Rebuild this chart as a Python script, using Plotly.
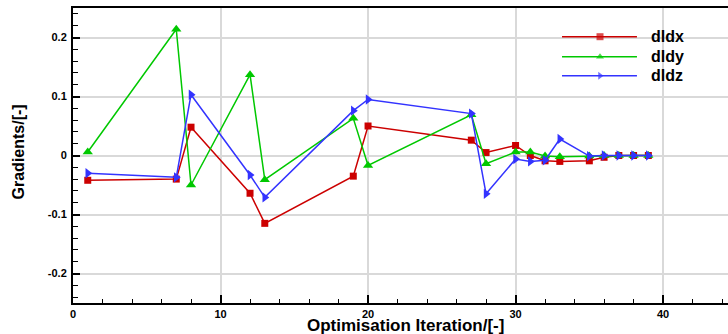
import plotly.graph_objects as go

# Optimisation iterations at which the gradients were evaluated
iterations = [1, 7, 8, 12, 13, 19, 20, 27, 28, 30, 31, 32, 33, 35, 36, 37, 38, 39]

# Gradient components per iteration
dldx = [-0.042, -0.040, 0.048, -0.064, -0.115, -0.035, 0.050, 0.026, 0.005, 0.017,
        0.000, -0.009, -0.010, -0.009, -0.003, 0.000, 0.000, 0.000]
dldy = [0.006, 0.214, -0.050, 0.137, -0.041, 0.063, -0.017, 0.069, -0.014, 0.006,
        0.006, -0.001, -0.002, -0.001, 0.000, 0.000, 0.000, 0.000]
dldz = [-0.030, -0.037, 0.103, -0.033, -0.071, 0.076, 0.095, 0.071, -0.065, -0.006,
        -0.010, -0.008, 0.028, -0.001, 0.000, 0.000, 0.000, 0.000]

series_names = ["dldx", "dldy", "dldz"]
series_colors = ["#cc0000", "#00c800", "#3333ff"]
series_symbols = ["square", "triangle-up", "triangle-right"]
series_sizes = [7, 9, 9]

x_ticks = [0, 10, 20, 30, 40]
y_ticks = [-0.2, -0.1, 0, 0.1, 0.2]
y_tick_text = ["-0.2", "-0.1", "0", "0.1", "0.2"]

FONT = "Liberation Sans, Arial, Helvetica, sans-serif"

fig = go.Figure()

for name, vals, col, sym, sz in zip(series_names, [dldx, dldy, dldz],
                                    series_colors, series_symbols, series_sizes):
    fig.add_trace(go.Scatter(
        x=iterations, y=vals, mode="lines+markers", name=name,
        line=dict(color=col, width=1.5),
        marker=dict(symbol=sym, size=sz, color=col, line=dict(width=0)),
        showlegend=False,
    ))

# Hand-drawn legend on an overlay axis spanning the plot area
leg_x0, leg_xm, leg_x1, leg_text_x = 0.7466, 0.8046, 0.861, 0.879
leg_rows = [0.9027, 0.835, 0.7705]
for name, col, sym, y in zip(series_names, series_colors, series_symbols, leg_rows):
    fig.add_trace(go.Scatter(
        x=[leg_x0, leg_xm, leg_x1], y=[y, y, y], mode="lines+markers",
        xaxis="x2", yaxis="y2", showlegend=False, hoverinfo="skip",
        line=dict(color=col, width=1.5),
        marker=dict(symbol=sym, size=[0, 7, 0], color=col, line=dict(width=0)),
    ))
    fig.add_annotation(
        x=leg_text_x, y=y, xref="x2", yref="y2", text="<b>%s</b>" % name,
        showarrow=False, xanchor="left", yanchor="middle",
        font=dict(family=FONT, size=16, color="black"),
    )

# Axis titles
fig.add_annotation(
    x=0.508, y=-0.076, xref="paper", yref="paper",
    text="<b>Optimisation Iteration/[-]</b>", showarrow=False,
    xanchor="center", yanchor="middle",
    font=dict(family=FONT, size=17, color="black"),
)
fig.add_annotation(
    x=-0.0832, y=0.512, xref="paper", yref="paper",
    text="<b>Gradients/[-]</b>", showarrow=False, textangle=-90,
    xanchor="center", yanchor="middle",
    font=dict(family=FONT, size=16, color="black"),
)

axis_common = dict(
    showline=True, linecolor="black", linewidth=2,
    ticks="inside", tickcolor="black", tickwidth=1.5,
    showgrid=True, gridcolor="#d9d9d9", gridwidth=1.5,
    zeroline=False,
    tickfont=dict(family=FONT, size=11, color="black", weight="bold"),
)

fig.update_layout(
    width=728, height=334,
    margin=dict(l=73, r=0, t=8, b=31),
    plot_bgcolor="white", paper_bgcolor="white",
    xaxis=dict(
        range=[0, 44.4], tickvals=x_ticks, ticklen=8, mirror=True,
        minor=dict(dtick=2, tick0=0, ticks="inside", ticklen=4, tickcolor="black", tickwidth=1, showgrid=False),
        **axis_common,
    ),
    yaxis=dict(
        range=[-0.25, 0.25], ticklen=7,
        tickvals=y_ticks, ticktext=y_tick_text, ticklabelstandoff=2,
        minor=dict(dtick=0.02, tick0=0, ticks="inside", ticklen=5, tickcolor="black", tickwidth=1, showgrid=False),
        **axis_common,
    ),
    xaxis2=dict(overlaying="x", range=[0, 1], visible=False, fixedrange=True),
    yaxis2=dict(overlaying="y", range=[0, 1], visible=False, fixedrange=True),
)

fig.write_html("out.html")
